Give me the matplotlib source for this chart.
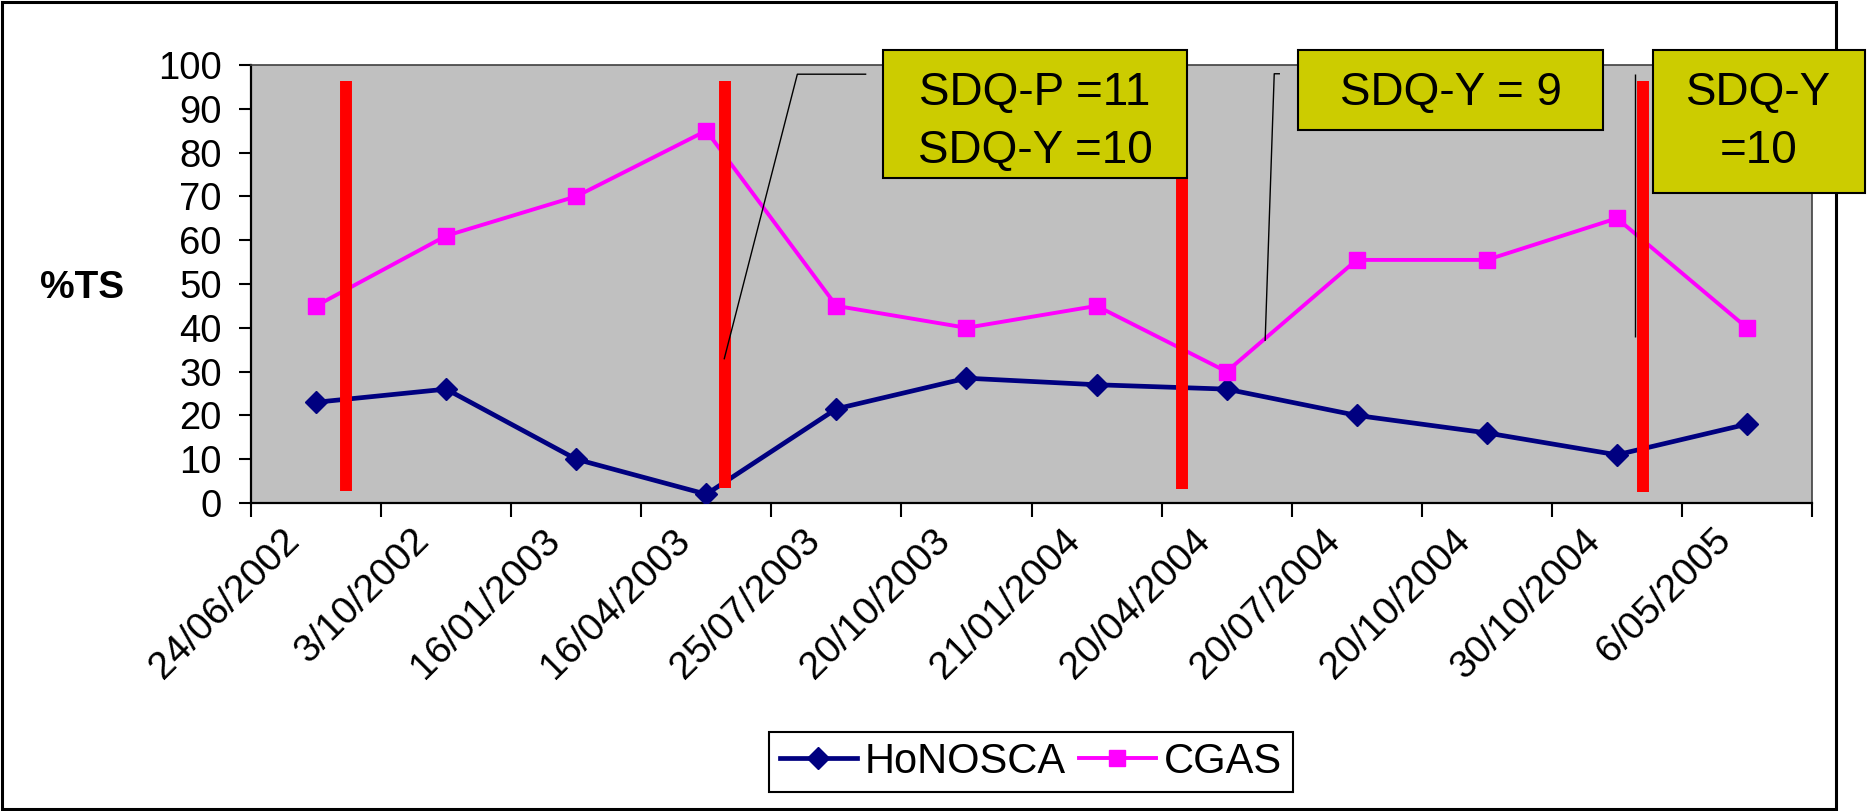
import numpy as np
import matplotlib
matplotlib.use('Agg')
import matplotlib.pyplot as plt
from matplotlib import font_manager
from matplotlib.patches import Rectangle
import matplotlib.transforms as mtrans

# ---------------- data ----------------
dates = ['24/06/2002', '3/10/2002', '16/01/2003', '16/04/2003', '25/07/2003',
         '20/10/2003', '21/01/2004', '20/04/2004', '20/07/2004', '20/10/2004',
         '30/10/2004', '6/05/2005']
honosca = [23, 26, 10, 2, 21.5, 28.5, 27, 26, 20, 16, 11, 18]
cgas = [45, 61, 70, 85, 45, 40, 45, 30, 55.5, 55.5, 65, 40]
y_ticks = list(range(0, 101, 10))

# SDQ assessment markers (red bars), in category units
event_x = [0.23, 3.14, 6.66, 10.2]
event_low = [2.7, 3.5, 3.2, 2.5]
event_high = [96.3, 96.3, 96.3, 96.3]

# call-out texts and the points their leader lines reach
callout_texts = [['SDQ-P =11', 'SDQ-Y =10'], ['SDQ-Y = 9'], ['SDQ-Y', '=10']]
leader_x = [[4.23, 3.70, 3.137], [7.41, 7.366, 7.296], [10.14, 10.14]]
leader_y = [[97.9, 97.9, 32.8], [98.0, 98.0, 37.0], [98.0, 37.8]]

# ---------------- fonts ----------------
def has_font(name):
    try:
        font_manager.findfont(font_manager.FontProperties(family=name),
                              fallback_to_default=False)
        return True
    except Exception:
        return False

NARROW = has_font('Liberation Sans Narrow')
if NARROW:
    plt.rcParams['font.family'] = ['Liberation Sans Narrow', 'Liberation Sans', 'DejaVu Sans']
    ytick_fs, xtick_fs, leg_fs, ylab_fs = 30, 32, 33, 32
else:
    plt.rcParams['font.family'] = ['Liberation Sans', 'DejaVu Sans']
    ytick_fs, xtick_fs, leg_fs, ylab_fs = 27.5, 28, 30, 28

W, H = 1875, 811
fig = plt.figure(figsize=(W / 100, H / 100), dpi=100)
fig.patch.set_facecolor('white')


def fx(px):
    return px / W


def fy(py):
    return 1 - py / H


# outer frame
fig.add_artist(Rectangle((fx(2), fy(809)), fx(1836) - fx(2), fy(2) - fy(809),
                         transform=fig.transFigure, facecolor='none',
                         edgecolor='black', lw=2.2, zorder=0))

ax = fig.add_axes([fx(251), fy(503), fx(1812) - fx(251), fy(65) - fy(503)])
ax.set_facecolor('#C0C0C0')
ax.set_xlim(-0.5, len(dates) - 0.5)
ax.set_ylim(0, 100)

x = np.arange(len(dates))
ax.plot(x, honosca, color='#000080', lw=3.4, marker='D', ms=11, zorder=3,
        label='HoNOSCA')
ax.plot(x, cgas, color='#FF00FF', lw=2.8, marker='s', ms=12, zorder=3,
        label='CGAS')

ax.vlines(event_x, event_low, event_high, colors='#FF0000', lw=8.6,
          capstyle='butt', zorder=4)

for lx, ly in zip(leader_x, leader_y):
    ax.plot(lx, ly, color='black', lw=1.0, zorder=5, solid_capstyle='butt')

# axes styling
for side in ['top', 'right']:
    ax.spines[side].set_color('#404040')
    ax.spines[side].set_linewidth(1.2)
for side in ['left', 'bottom']:
    ax.spines[side].set_color('black')
    ax.spines[side].set_linewidth(1.6)

ax.set_yticks(y_ticks)
ax.tick_params(axis='y', labelsize=ytick_fs, length=9, width=1.5,
               direction='out', pad=12)
ax.set_xticks(x)
ax.set_xticklabels(dates, rotation=45, ha='right', va='center',
                   rotation_mode='anchor', fontsize=xtick_fs)
ax.set_xticks(np.arange(-0.5, len(dates), 1), minor=True)
ax.tick_params(axis='x', which='major', length=0, pad=23)
ax.tick_params(axis='x', which='minor', length=10, width=1.5, direction='out')
off = mtrans.ScaledTranslation(-0.22, 0, fig.dpi_scale_trans)
for lbl in ax.get_xticklabels():
    lbl.set_transform(lbl.get_transform() + off)

ax.set_ylabel('%TS', rotation=0, ha='left', va='baseline',
              fontsize=ylab_fs, fontweight='bold')
ax.yaxis.set_label_coords((40 - 251) / 1561, (503 - 298) / 438)

leg = ax.legend(loc='center', bbox_to_anchor=(fx(1031), fy(762)),
                bbox_transform=fig.transFigure, ncol=2, fontsize=leg_fs,
                frameon=True, fancybox=False, framealpha=1, edgecolor='black',
                borderpad=0.25, handlelength=1.85, handletextpad=0.2,
                columnspacing=0.3, borderaxespad=0)
leg.get_frame().set_linewidth(1.5)

# call-out boxes (figure pixel layout)
boxes = [(883, 50, 1187, 178), (1298, 50, 1603, 130), (1653, 50, 1865, 193)]
for (x0, y0, x1, y1), lines in zip(boxes, callout_texts):
    fig.add_artist(Rectangle((fx(x0), fy(y1)), fx(x1) - fx(x0), fy(y0) - fy(y1),
                             transform=fig.transFigure, facecolor='#CCCC00',
                             edgecolor='black', lw=1.5, zorder=10))
    cx = (x0 + x1) / 2
    for i, s in enumerate(lines):
        fig.text(fx(cx), fy(105 + 58 * i), s, ha='center', va='baseline',
                 fontsize=33, family=['Liberation Sans', 'DejaVu Sans'],
                 zorder=11)

fig.savefig('out.png', dpi=100)
